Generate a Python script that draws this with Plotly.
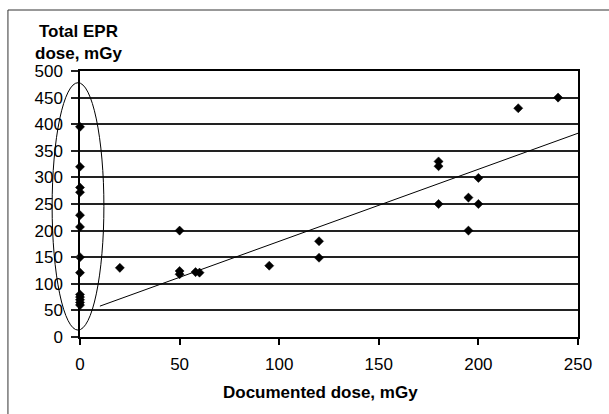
import plotly.graph_objects as go

# Documented (reconstructed) dose vs. total EPR dose, both in mGy
documented_dose = [0, 0, 0, 0, 0, 0, 0, 0, 0, 0, 0, 0, 0,
                   20, 50, 50, 50, 58, 60, 95, 120, 120,
                   180, 180, 180, 195, 195, 200, 200, 220, 240]
epr_dose = [395, 320, 281, 272, 229, 207, 150, 121, 80, 75, 70, 65, 60,
            130, 200, 124, 118, 122, 121, 134, 180, 149,
            330, 321, 250, 262, 200, 299, 250, 430, 450]

# Linear trend line end points
trend_x = [10, 250]
trend_y = [58, 383]

# Ellipse around the zero-dose group (data units)
ellipse_x = [-14, 12]
ellipse_y = [13, 478]

x_range = [0, 250]
y_range = [0, 500]
x_ticks = [0, 50, 100, 150, 200, 250]
y_ticks = [0, 50, 100, 150, 200, 250, 300, 350, 400, 450, 500]

FONT = "Arial, Liberation Sans, sans-serif"
INK = "#000000"
GRID = "#222222"

fig = go.Figure()

fig.add_trace(go.Scatter(
    x=trend_x, y=trend_y, mode="lines",
    line=dict(color=INK, width=1),
    hoverinfo="skip", showlegend=False,
))

fig.add_trace(go.Scatter(
    x=documented_dose, y=epr_dose, mode="markers",
    marker=dict(symbol="diamond", size=7, color=INK,
                line=dict(color=INK, width=0.5)),
    cliponaxis=False, showlegend=False,
))


def to_domain(v, rng):
    return (v - rng[0]) / (rng[1] - rng[0])


fig.add_shape(
    type="circle", xref="x domain", yref="y domain",
    x0=to_domain(ellipse_x[0], x_range), x1=to_domain(ellipse_x[1], x_range),
    y0=to_domain(ellipse_y[0], y_range), y1=to_domain(ellipse_y[1], y_range),
    line=dict(color=INK, width=1), layer="above",
)

# outer chart frame (top and left edges)
fig.add_shape(type="line", xref="paper", yref="paper",
              x0=-0.1447, x1=1.1, y0=1.2293, y1=1.2293,
              line=dict(color="#333333", width=1))
fig.add_shape(type="line", xref="paper", yref="paper",
              x0=-0.1447, x1=-0.1447, y0=1.2293, y1=-0.3,
              line=dict(color="#333333", width=1))

fig.add_annotation(
    text="<b>Total EPR<br>dose, mGy</b>", xref="x", x=0, yref="y", y=500,
    xanchor="center", yanchor="bottom", yshift=6, xshift=-2, showarrow=False,
    align="center", font=dict(family=FONT, size=17, color=INK),
)
fig.add_annotation(
    text="<b>Documented dose, mGy</b>", xref="paper", x=0.482,
    yref="paper", y=0, xanchor="center", yanchor="top", yshift=-44,
    showarrow=False, font=dict(family=FONT, size=17, color=INK),
)

fig.update_xaxes(
    range=x_range, tickvals=x_ticks, ticks="outside", ticklen=6,
    tickwidth=1.5, tickcolor=INK, showline=True, linecolor=INK, linewidth=1.5,
    mirror=True, showgrid=False, zeroline=False, ticklabelstandoff=5,
    tickfont=dict(family=FONT, size=17, color=INK),
)
fig.update_yaxes(
    range=y_range, tickvals=y_ticks, ticks="outside", ticklen=7,
    tickwidth=1.5, tickcolor=GRID, showline=True, linecolor=INK, linewidth=1.5,
    mirror=True, showgrid=True, gridcolor=GRID, gridwidth=1.5, zeroline=False,
    ticklabelstandoff=5,
    tickfont=dict(family=FONT, size=17, color=INK),
)

fig.update_layout(
    width=609, height=414,
    margin=dict(l=80, r=31, t=71, b=77),
    paper_bgcolor="white", plot_bgcolor="white",
    showlegend=False,
)

fig.write_html("out.html")
